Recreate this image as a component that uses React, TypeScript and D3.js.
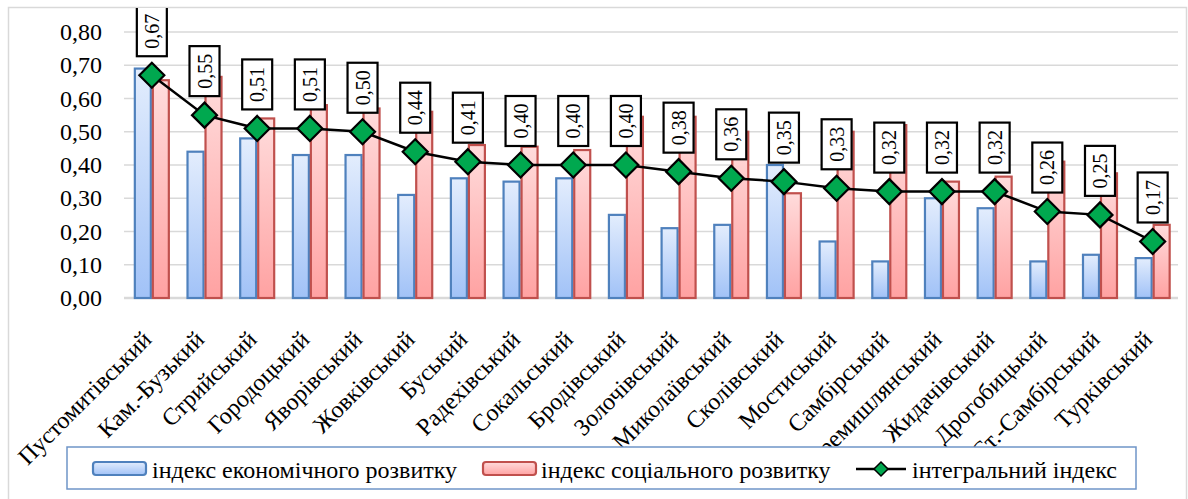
import React from "react";
import * as d3 from "d3";

const categories = [
  "Пустомитівський", "Кам.-Бузький", "Стрийський", "Городоцький", "Яворівський",
  "Жовківський", "Буський", "Радехівський", "Сокальський", "Бродівський",
  "Золочівський", "Миколаївський", "Сколівський", "Мостиський", "Самбірський",
  "Перемишлянський", "Жидачівський", "Дрогобицький", "Ст.-Самбірський", "Турківський",
];
const economic = [0.69, 0.44, 0.48, 0.43, 0.43, 0.31, 0.36, 0.35, 0.36, 0.25, 0.21, 0.22, 0.40, 0.17, 0.11, 0.30, 0.27, 0.11, 0.13, 0.12];
const social = [0.655, 0.665, 0.54, 0.58, 0.57, 0.56, 0.46, 0.455, 0.445, 0.545, 0.545, 0.50, 0.315, 0.50, 0.52, 0.35, 0.365, 0.41, 0.375, 0.22];
const integral = [0.67, 0.55, 0.51, 0.51, 0.50, 0.44, 0.41, 0.40, 0.40, 0.40, 0.38, 0.36, 0.35, 0.33, 0.32, 0.32, 0.32, 0.26, 0.25, 0.17];
const yTicks = [0, 0.1, 0.2, 0.3, 0.4, 0.5, 0.6, 0.7, 0.8];
const legendLabels = ["індекс економічного розвитку", "індекс соціального розвитку", "інтегральний індекс"];

const W = 1188;
const H = 499;
const fmt = (v: number) => d3.format(".2f")(v).replace(".", ",");
const serif = { fontFamily: '"Liberation Serif"' };

export default function App() {
  const x = d3.scaleBand<string>().domain(categories).range([125.5, 1179]).padding(0);
  const y = d3.scaleLinear().domain([0, 0.8]).range([298, 32]);
  const cx = (c: string) => (x(c) as number) + x.bandwidth() / 2;
  const barW = 18;
  const line = d3.line<number>().x((_, i) => cx(categories[i])).y((v) => y(v));
  const diamond = (s: number) => `M0,${-s}L${s},0L0,${s}L${-s},0Z`;
  const [gx0, gx1] = [124, 1178];

  return (
    <div style={{ position: "absolute", left: 0, top: 0, width: W, height: H, fontFamily: '"Liberation Serif"' }}>
    <svg width={W} height={H} style={{ display: "block" }}>
      <style>{`text { font-family: "Liberation Serif" !important; }`}</style>
      <defs>
        <linearGradient id="gBlue" x1="0" y1="0" x2="0" y2="1">
          <stop offset="0" stopColor="#e3edfd" />
          <stop offset="1" stopColor="#a1c2f7" />
        </linearGradient>
        <linearGradient id="gRed" x1="0" y1="0" x2="0" y2="1">
          <stop offset="0" stopColor="#ffdcdc" />
          <stop offset="1" stopColor="#ffa2a2" />
        </linearGradient>
        <clipPath id="chartClip">
          <rect x={8} y={8} width={1178} height={489} />
        </clipPath>
      </defs>
      <rect x={0} y={0} width={W} height={H} fill="#fff" />
      <rect x={8.5} y={7.5} width={1178} height={495} fill="#fff" stroke="#d9d9d9" strokeWidth={1.5} />

      {yTicks.map((t) => (
        <line key={t} x1={gx0} x2={gx1} y1={y(t)} y2={y(t)} stroke="#d9d9d9" strokeWidth={t === 0 ? 2.5 : 1.5} />
      ))}
      {yTicks.map((t) => (
        <text key={"t" + t} x={102} y={y(t) + 8} textAnchor="end" fontSize={24} fill="#000" style={serif}>
          {fmt(t)}
        </text>
      ))}

      {categories.map((c, i) => (
        <g key={c}>
          <rect x={cx(c) - barW + 1} y={y(economic[i])} width={barW - 2} height={y(0) - y(economic[i])}
            fill="url(#gBlue)" stroke="#4f81bd" strokeWidth={2.2} />
          <rect x={cx(c) + 1} y={y(social[i])} width={barW - 2} height={y(0) - y(social[i])}
            fill="url(#gRed)" stroke="#c0504d" strokeWidth={2.2} />
        </g>
      ))}

      <path d={line(integral) || ""} fill="none" stroke="#000" strokeWidth={2.5} />
      {integral.map((v, i) => (
        <path key={i} d={diamond(12.5)} transform={`translate(${cx(categories[i])},${y(v)})`}
          fill="#00a84f" stroke="#000" strokeWidth={2.2} />
      ))}

      <g clipPath="url(#chartClip)">
        {integral.map((v, i) => {
          const px = cx(categories[i]);
          const bottom = y(v) - 19;
          const h = 50;
          return (
            <g key={i}>
              <rect x={px - 15} y={bottom - h} width={30} height={h} fill="#fff" stroke="#000" strokeWidth={2.2} />
              <text transform={`translate(${px + 7},${bottom - h / 2}) rotate(-90)`} textAnchor="middle"
                fontSize={20} fill="#000" style={serif}>
                {fmt(v)}
              </text>
            </g>
          );
        })}
      </g>

      {categories.map((c) => (
        <text key={"l" + c} transform={`translate(${cx(c) + 1},${341}) rotate(-45)`} textAnchor="end"
          fontSize={24} fill="#000" style={serif}>
          {c}
        </text>
      ))}

      <rect x={67} y={447} width={1069} height={42} fill="#fff" stroke="#6f95c8" strokeWidth={1.5} />
      <rect x={93} y={462} width={53} height={13} rx={3} fill="url(#gBlue)" stroke="#4f81bd" strokeWidth={2.2} />
      <text x={152} y={478} fontSize={24} fill="#000" style={serif}>{legendLabels[0]}</text>
      <rect x={483} y={462} width={53} height={13} rx={3} fill="url(#gRed)" stroke="#c0504d" strokeWidth={2.2} />
      <text x={541} y={478} fontSize={24} fill="#000" style={serif}>{legendLabels[1]}</text>
      <line x1={856} x2={906} y1={469} y2={469} stroke="#000" strokeWidth={2.5} />
      <path d={diamond(7)} transform="translate(881,469)" fill="#00a84f" stroke="#000" strokeWidth={1.5} />
      <text x={912} y={478} fontSize={24} fill="#000" style={serif}>{legendLabels[2]}</text>
    </svg>
    </div>
  );
}
